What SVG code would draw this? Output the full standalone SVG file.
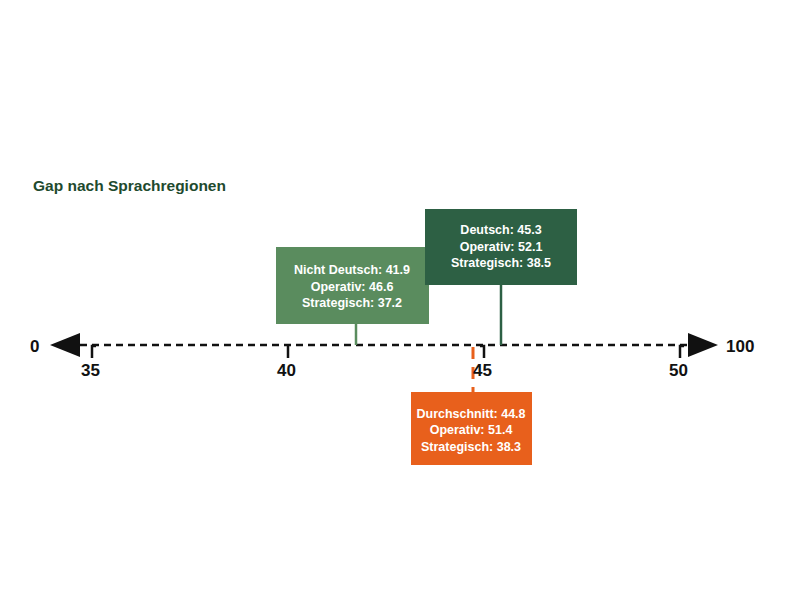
<svg xmlns="http://www.w3.org/2000/svg" width="790" height="593" viewBox="0 0 790 593">
<style>
text{font-family:"Liberation Sans",Arial,sans-serif}
.bt{fill:#fff;font-size:12.5px;font-weight:bold;text-anchor:middle}
.ax{fill:#111;font-size:17px;font-weight:bold}
.tk{stroke:#111;stroke-width:2.5;fill:none}
</style>
<rect width="790" height="593" fill="#fff"/>
<text x="33" y="191" font-size="15.5" font-weight="bold" fill="#1e4a2e">Gap nach Sprachregionen</text>
<g id="connectors">
<line x1="80" y1="345" x2="688" y2="345" stroke="#111" stroke-width="2.5" stroke-dasharray="7,5"/>
<polygon points="50,345 80,333 80,357" fill="#111"/>
<polygon points="718,345 688,333 688,357" fill="#111"/>
<path class="tk" d="M92,358V346H96 M288,358V346 M484,358V346H480 M680,358V346H684"/>
<line x1="356" y1="324" x2="356" y2="345" stroke="#5a8c5e" stroke-width="2.5"/>
<line x1="501" y1="285" x2="501" y2="345" stroke="#2d6044" stroke-width="2.5"/>
<line x1="473" y1="345" x2="473" y2="392" stroke="#e8601c" stroke-width="3" stroke-dasharray="12,8" stroke-dashoffset="-2"/>
</g>
<g id="axis-labels">
<text class="ax" x="30" y="352">0</text>
<text class="ax" x="726" y="352">100</text>
<text class="ax" x="81" y="376">35</text>
<text class="ax" x="277" y="376">40</text>
<text class="ax" x="473" y="376">45</text>
<text class="ax" x="669" y="376">50</text>
</g>
<g id="nicht-deutsch">
<rect x="276" y="247" width="153" height="77" fill="#5a8c5e"/>
<text class="bt" x="352" y="274">Nicht Deutsch: 41.9</text>
<text class="bt" x="352" y="291">Operativ: 46.6</text>
<text class="bt" x="352" y="307">Strategisch: 37.2</text>
</g>
<g id="deutsch">
<rect x="425" y="209" width="152" height="76" fill="#2d6044"/>
<text class="bt" x="501" y="234">Deutsch: 45.3</text>
<text class="bt" x="501" y="251">Operativ: 52.1</text>
<text class="bt" x="501" y="267">Strategisch: 38.5</text>
</g>
<g id="durchschnitt">
<rect x="411" y="392" width="121" height="73" fill="#e8601c"/>
<text class="bt" x="471" y="418">Durchschnitt: 44.8</text>
<text class="bt" x="471" y="434">Operativ: 51.4</text>
<text class="bt" x="471" y="451">Strategisch: 38.3</text>
</g>
</svg>
